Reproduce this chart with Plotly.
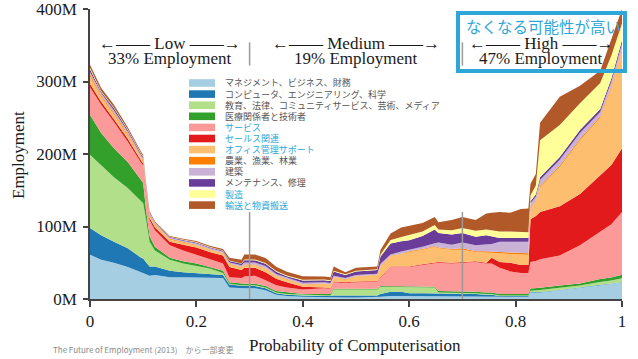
import plotly.graph_objects as go

# ---------------- data ----------------
prob = [0.000, 0.021, 0.045, 0.071, 0.096, 0.100, 0.105, 0.112, 0.122, 0.150,
        0.175, 0.200, 0.225, 0.250, 0.262, 0.285, 0.290, 0.310, 0.330, 0.350,
        0.370, 0.400, 0.440, 0.452, 0.458, 0.480, 0.500, 0.530, 0.540, 0.546,
        0.565, 0.585, 0.600, 0.625, 0.648, 0.655, 0.680, 0.700, 0.725, 0.745,
        0.755, 0.770, 0.790, 0.810, 0.824, 0.828, 0.838, 0.846, 0.883, 0.921,
        0.959, 0.980, 1.000]

management = [61, 54, 50, 44, 37, 36, 34, 32, 33, 30, 30, 30, 30, 29, 16, 15, 15, 15, 12, 6,
              4, 3, 2, 2, 2, 2, 2, 2, 2, 3, 4, 4, 3, 3, 3, 4, 4, 4, 4, 4,
              4, 3, 3, 3, 3, 9, 9, 9, 12, 15, 19, 21, 23]
computer = [37, 34, 29, 26, 20, 20, 17, 13, 12, 9, 7, 6, 5, 4, 4, 3, 3, 3, 3, 2,
            2, 2, 2, 2, 3, 3, 3, 3, 3, 4, 6, 6, 5, 5, 5, 4, 4, 4, 3, 2,
            2, 1, 1, 1, 1, 0.5, 0.5, 0.5, 0.5, 0.5, 0.5, 0.5, 0.5]
education = [101, 97, 89, 83, 77, 76, 60, 34, 22, 15, 12, 10, 7, 3, 1, 1, 1, 1, 1, 1,
             1, 1, 1, 1, 8, 8, 8, 8, 8, 10, 7, 7, 8, 8, 8, 1, 1, 1, 1, 1,
             1, 1, 1, 1, 1, 2, 3, 3, 3, 3, 4, 4, 5]
healthcare = [55, 44, 40, 36, 30, 28, 14, 8, 5, 3, 3, 3, 2, 3, 2, 2, 2, 2, 2, 2,
              2, 1, 2, 2, 1, 1, 1, 1, 1, 1, 1, 1, 1, 1, 1, 2, 2, 2, 2, 2,
              2, 2, 2, 2, 2, 3, 3, 3, 3, 3, 4, 4, 5]
service = [38, 39, 36, 28, 24, 24, 24, 22, 23, 17, 15, 12, 11, 10, 7, 8, 10, 11, 8, 8,
           7, 6, 8, 7, 9, 8, 9, 10, 10, 11, 26, 26, 27, 30, 33, 39, 38, 39, 41, 40,
           40, 36, 31, 29, 29, 36.5, 37, 39.5, 41.5, 52.5, 64.5, 73.5, 86.5]
sales = [5, 4, 4, 4, 3, 3, 3, 3, 4, 5, 8, 10, 10, 11, 14, 11, 12, 11, 11, 9,
         7, 4, 1, 1, 1, 1, 1, 1, 1, 1, 1, 1, 1, 1, 1, 1, 1, 1, 1, 1,
         8, 8, 12, 11, 11, 59, 62, 65, 68, 71, 78, 82, 88]
office = [10, 7, 7, 5, 4, 4, 3, 3, 3, 3, 3, 3, 3, 3, 4, 4, 4, 4, 5, 4,
          4, 3, 5, 5, 6, 4, 7, 8, 8, 15, 14, 17, 20, 20, 21, 19, 18, 17, 13, 14,
          7, 12, 12, 14, 14, 15, 20, 34, 54, 74, 80, 107, 135]
farming = [3, 2, 2, 2, 1, 1, 1, 1, 1, 1, 1, 1, 0.5, 0.5, 0.5, 0.5, 0.5, 0.5, 0.5, 0.5,
           0.5, 0.5, 0.5, 0.5, 0.5, 0.5, 0.5, 0.5, 0.5, 0.5, 0.5, 0.5, 1, 1, 1, 1, 1, 2, 1, 2,
           2, 2, 2, 2, 2, 1, 1, 2, 2, 2, 2, 2, 2]
construction = [3, 3, 3, 3, 2, 2, 2, 1, 1, 1.5, 1.5, 2, 2, 2, 2, 2, 3, 3, 3, 2,
                2, 2, 1.5, 1.5, 1.5, 1.5, 1.5, 1.5, 1.5, 3, 2, 3, 2, 3, 4, 7, 6, 8, 8, 10,
                10, 14, 15, 16, 16, 6, 6, 8, 8, 8, 6, 6, 7]
maintenance = [4, 2, 3, 2, 2, 2, 2, 1, 1, 1, 1, 1, 1, 1, 2, 2, 3, 3, 3, 3,
               2, 3, 3, 3, 6, 4, 5, 5, 5, 10, 15, 14, 13, 15, 19, 13, 14, 13, 12, 12,
               10, 5, 5, 5, 5, 3, 3, 4, 4, 4, 4, 4, 5]
production = [2, 1, 1, 1, 1, 1, 1, 1, 0.5, 0.5, 0.5, 0.5, 0.5, 0.5, 0.5, 0.5, 1, 1, 1, 1,
              1, 1, 1, 1, 1, 1, 1, 1, 1, 3, 5, 6, 7, 6, 6, 5, 6, 7, 8, 8,
              9, 9, 9, 8, 8, 8, 12, 51, 44, 37, 36, 32, 23]
transport = [4, 4, 4, 3, 2, 2, 2, 2, 1.5, 1, 1, 1.5, 1.5, 2, 4, 5, 7, 7, 7, 6,
             5, 5, 4, 4, 6, 3, 4, 4, 4, 6, 9, 13, 13, 12, 11, 10, 14, 15, 15, 22,
             24, 27, 26, 32, 33, 16, 16, 24, 39, 24, 17, 21, 20]

categories = ["マネジメント、ビジネス、財務", "コンピュータ、エンジニアリング、科学",
              "教育、法律、コミュニティサービス、芸術、メディア", "医療関係者と技術者",
              "サービス", "セールス関連", "オフィス管理サポート", "農業、漁業、林業",
              "建築", "メンテナンス、修理", "製造", "輸送と物資搬送"]
highlighted = [False, False, False, False, True, True, True, False, False, False, True, True]
colors = ["#A6CEE3", "#1F78B4", "#B2DF8A", "#33A02C", "#FB9A99", "#E31A1C",
          "#FDBF6F", "#FF7F00", "#CAB2D6", "#6A3D9A", "#FFFF99", "#B15928"]
series = [management, computer, education, healthcare, service, sales, office,
          farming, construction, maintenance, production, transport]

x_tick_vals = [0, 0.2, 0.4, 0.6, 0.8, 1]
x_tick_labels = ["0", "0.2", "0.4", "0.6", "0.8", "1"]
y_tick_vals = [0, 100, 200, 300, 400]
y_tick_labels = ["0M", "100M", "200M", "300M", "400M"]

bands = [("Low", "33% Employment", 0.15), ("Medium", "19% Employment", 0.5),
         ("High", "47% Employment", 0.848)]
thresholds = [0.3, 0.7]

SERIF = "Liberation Serif"
JP = "Noto Sans CJK JP"
BLUE = "#2EA7D8"

# ---------------- figure ----------------
fig = go.Figure()
for name, vals, col in zip(categories, series, colors):
    fig.add_trace(go.Scatter(x=prob, y=vals, name=name, mode="lines",
                             stackgroup="one", line=dict(width=0, color=col),
                             fillcolor=col, showlegend=False, hoverinfo="skip"))

shapes = []
for t in thresholds:
    shapes.append(dict(type="line", xref="x", yref="y", x0=t, x1=t, y0=0, y1=120,
                       line=dict(color="#9a9a9a", width=1.5), layer="above"))
    shapes.append(dict(type="line", xref="x", yref="y", x0=t, x1=t, y0=322, y1=354,
                       line=dict(color="#9a9a9a", width=1.5), layer="above"))

annotations = []
for label, pct, xc in bands:
    annotations.append(dict(x=xc, y=352, xref="x", yref="y", showarrow=False,
                            xanchor="center", yanchor="middle",
                            text="←—— " + label + " ——→",
                            font=dict(family=SERIF, size=17, color="#1a1a1a")))
    annotations.append(dict(x=xc, y=332, xref="x", yref="y", showarrow=False,
                            xanchor="center", yanchor="middle",
                            text=pct, font=dict(family=SERIF, size=17, color="#1a1a1a")))

# highlight box
shapes.append(dict(type="rect", xref="paper", yref="paper",
                   x0=(458 - 90) / 532, x1=(625 - 90) / 532,
                   y0=(299 - 71) / 290, y1=(299 - 13) / 290,
                   line=dict(color=BLUE, width=4), fillcolor="rgba(0,0,0,0)", layer="above"))
annotations.append(dict(x=(543 - 90) / 532, y=(299 - 26) / 290, xref="paper", yref="paper",
                        xanchor="center", yanchor="middle",
                        showarrow=False, text="なくなる可能性が高い",
                        font=dict(family=JP, size=15.5, color=BLUE)))

# manual legend
for i, (name, col, hi) in enumerate(zip(categories, colors, highlighted)):
    yc = 83 + 11.1 * i
    shapes.append(dict(type="rect", xref="paper", yref="paper",
                       x0=(189 - 90) / 532, x1=(215 - 90) / 532,
                       y0=(299 - yc - 3.8) / 290, y1=(299 - yc + 3.8) / 290,
                       line=dict(width=0), fillcolor=col, layer="above"))
    annotations.append(dict(x=(223 - 90) / 532, y=(299 - yc) / 290, xref="paper", yref="paper",
                            xanchor="left", yanchor="middle", showarrow=False, text=name,
                            font=dict(family=JP, size=9, color=BLUE if hi else "#555555")))

# axis titles & source
annotations.append(dict(x=(355 - 90) / 532, y=(299 - 345) / 290, xref="paper", yref="paper",
                        xanchor="center", yanchor="middle",
                        showarrow=False, text="Probability of Computerisation",
                        font=dict(family=SERIF, size=17, color="#1a1a1a")))
annotations.append(dict(x=(18 - 90) / 532, y=(299 - 155) / 290, xref="paper", yref="paper",
                        textangle=-90, xanchor="center", yanchor="middle",
                        showarrow=False, text="Employment",
                        font=dict(family=SERIF, size=17, color="#1a1a1a")))
annotations.append(dict(x=(51 - 90) / 532, y=(299 - 349) / 290, xref="paper", yref="paper",
                        xanchor="left", yanchor="middle", showarrow=False,
                        text="The Future of Employment (2013)　から一部変更",
                        font=dict(family=JP, size=8, color="#8a8a8a")))

fig.update_layout(width=638, height=359, margin=dict(l=90, r=16, t=9, b=60),
                  paper_bgcolor="white", plot_bgcolor="white", showlegend=False,
                  shapes=shapes, annotations=annotations)
fig.update_xaxes(range=[0, 1], tickvals=x_tick_vals, ticktext=x_tick_labels,
                 ticks="outside", ticklen=6, tickwidth=1.5, tickcolor="#444",
                 showline=True, linecolor="#444", linewidth=1.5, showgrid=False,
                 zeroline=False, ticklabelstandoff=0, automargin=False,
                 tickfont=dict(family=SERIF, size=17, color="#1a1a1a"))
fig.update_yaxes(range=[0, 400], tickvals=y_tick_vals, ticktext=y_tick_labels,
                 ticks="outside", ticklen=5, tickwidth=1.5, tickcolor="#444",
                 showline=True, linecolor="#444", linewidth=1.5, showgrid=False,
                 zeroline=False, ticklabelstandoff=3, ticklabeloverflow="allow",
                 automargin=False,
                 tickfont=dict(family=SERIF, size=17, color="#1a1a1a"))

fig.write_html("out.html", config={"displayModeBar": False},
               post_script="document.body.style.margin='0px';")
